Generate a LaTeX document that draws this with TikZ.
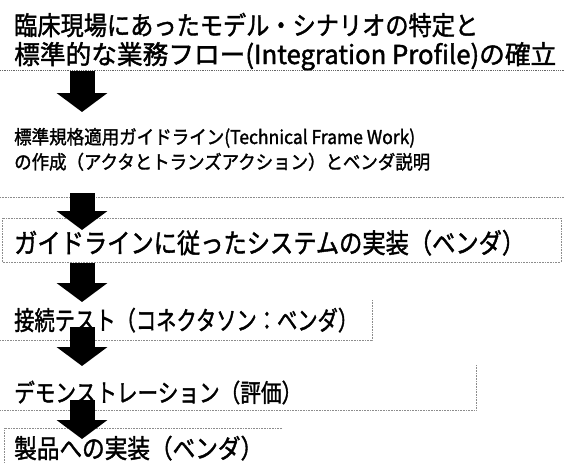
\documentclass[tikz,border=0pt]{standalone}
\usepackage{fontspec}
\usepackage{graphicx}
\setmainfont{Noto Sans CJK JP}[FakeBold=1.6]
\usetikzlibrary{arrows.meta}
\newcommand{\fitw}[2]{\resizebox{#1}{\height}{#2}}
\tikzset{
  txt/.style={anchor=base west, inner sep=0pt, text=black},
  sepline/.style={densely dotted, black!60, line width=0.8pt},
  edgeline/.style={densely dotted, black!45, line width=0.6pt},
  bigarrow/.style={line width=25pt, -{Triangle[width=50pt,length=19pt]}, black}
}
\begin{document}
\begin{tikzpicture}[x=1pt,y=-1pt]
\useasboundingbox (0,0) rectangle (564,463);
% texts
\node[txt, font=\fontsize{26}{26}\selectfont] (t1a) at (14,35) {\fitw{464pt}{臨床現場にあったモデル・シナリオの特定と}};
\node[txt, font=\fontsize{26}{26}\selectfont] (t1b) at (14,64) {\fitw{542pt}{標準的な業務フロー(Integration Profile)の確立}};
\node[txt, font=\fontsize{19}{19}\selectfont] (t2a) at (14,144) {\fitw{401pt}{標準規格適用ガイドライン(Technical Frame Work)}};
\node[txt, font=\fontsize{19}{19}\selectfont] (t2b) at (14,169) {\fitw{416pt}{の作成（アクタとトランズアクション）とベンダ説明}};
\node[txt, font=\fontsize{27}{27}\selectfont] (t3) at (14,253) {\fitw{511pt}{ガイドラインに従ったシステムの実装（ベンダ）}};
\node[txt, font=\fontsize{26}{26}\selectfont] (t4) at (14,330) {\fitw{344pt}{接続テスト（コネクタソン：ベンダ）}};
\node[txt, font=\fontsize{25}{25}\selectfont] (t5) at (14,402) {\fitw{288pt}{デモンストレーション（評価）}};
\node[txt, font=\fontsize{26}{26}\selectfont] (t6) at (14,458) {\fitw{249pt}{製品への実装（ベンダ）}};
% separator lines
\coordinate (l1a) at (0,70);   \coordinate (l1b) at (564,70);
\coordinate (l2a) at (0,197);  \coordinate (l2b) at (564,197);
\coordinate (b3a) at (2,218);  \coordinate (b3b) at (561,218);
\coordinate (b3c) at (561,262);\coordinate (b3d) at (2,262);
\coordinate (b4a) at (372,300);\coordinate (b4b) at (372,340);\coordinate (b4c) at (0,340);
\coordinate (b5a) at (476,365);\coordinate (b5b) at (476,410);\coordinate (b5c) at (0,410);
\coordinate (b6a) at (282,428);\coordinate (b6b) at (4,428);\coordinate (b6c) at (4,463);
\draw[sepline] (l1a) -- (l1b);
\draw[edgeline] (l2a) -- (l2b);
\draw[edgeline] (b3d) -- (b3a) -- (b3b) -- (b3c) -- (b3d);
\draw[edgeline] (b4a) -- (b4b) -- (b4c);
\draw[edgeline] (b5a) -- (b5b) -- (b5c);
\draw[edgeline] (b6a) -- (b6b) -- (b6c);
% arrows
\coordinate (a1s) at (82,71);  \coordinate (a1e) at (82,112);
\coordinate (a2s) at (82,193); \coordinate (a2e) at (82,230);
\coordinate (a3s) at (82,263); \coordinate (a3e) at (82,302);
\coordinate (a4s) at (82,327); \coordinate (a4e) at (82,366);
\coordinate (a5s) at (82,400); \coordinate (a5e) at (82,439);
\draw[bigarrow] (a1s) -- (a1e);
\draw[bigarrow] (a2s) -- (a2e);
\draw[bigarrow] (a3s) -- (a3e);
\draw[bigarrow] (a4s) -- (a4e);
\draw[bigarrow] (a5s) -- (a5e);
\end{tikzpicture}
\end{document}
